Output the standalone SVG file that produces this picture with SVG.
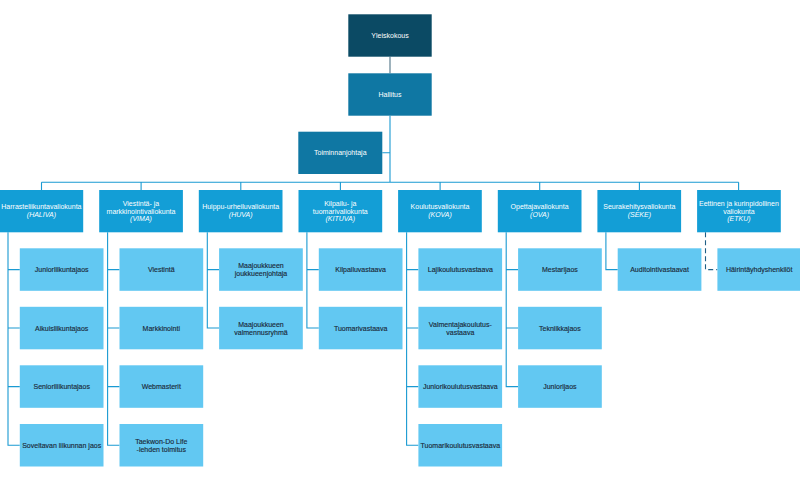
<svg xmlns="http://www.w3.org/2000/svg" width="800" height="481" viewBox="0 0 800 481">
<style>
text{font-family:"Liberation Sans",Arial,sans-serif;font-size:7px;text-anchor:middle}
.top{fill:#0b4a64}
.mid{fill:#0f77a3}
.com{fill:#139ed6}
.ch{fill:#62c8f2}
.wt{fill:#ffffff}
.dk{fill:#1b2b3b;stroke:#1b2b3b;stroke-width:0.15}
.it{font-style:italic}
.ln{fill:none;stroke:#1a9ad2;stroke-width:1.1}
.ln2{fill:none;stroke:#4f7486;stroke-width:1.1}
.dash{fill:none;stroke:#1f5f86;stroke-width:1.1;stroke-dasharray:5,3}
</style>
<rect width="800" height="481" fill="#ffffff"/>
<g id="connectors">
<path class="ln2" d="M390 56.7V73.3"/>
<path class="ln" d="M390 115.7V182.3M382.3 152.8H390M41.5 182.3H738.6M41.5 182.3V190M141.1 182.3V190M240.8 182.3V190M340.4 182.3V190M440.1 182.3V190M539.7 182.3V190M639.4 182.3V190M738.6 182.3V190"/>
<path class="ln" d="M8 232.3V445.2H19.8M8 269.6H19.8M8 328H19.8M8 386.6H19.8"/>
<path class="ln" d="M107.6 232.3V445.2H119.5M107.6 269.6H119.5M107.6 328H119.5M107.6 386.6H119.5"/>
<path class="ln" d="M207.3 232.3V328H219.1M207.3 269.6H219.1"/>
<path class="ln" d="M306.9 232.3V328H318.8M306.9 269.6H318.8"/>
<path class="ln" d="M406.6 232.3V445.2H418.4M406.6 269.6H418.4M406.6 328H418.4M406.6 386.6H418.4"/>
<path class="ln" d="M506.2 232.3V386.6H518.1M506.2 269.6H518.1M506.2 328H518.1"/>
<path class="ln" d="M605.9 232.3V269.6H617.7"/>
<path class="dash" d="M705.5 232.3V269.6H717.4"/>
</g>
<g id="yleiskokous"><rect class="top" x="348.3" y="14.3" width="83.4" height="42.4"/><text class="wt" x="390" y="38">Yleiskokous</text></g>
<g id="hallitus"><rect class="mid" x="348.3" y="73.3" width="83.4" height="42.4"/><text class="wt" x="390" y="97">Hallitus</text></g>
<g id="toiminnanjohtaja"><rect class="mid" x="298.3" y="131.7" width="84" height="42.3"/><text class="wt" x="340.3" y="155.3">Toiminnanjohtaja</text></g>

<g id="haliva"><rect class="com" x="-0.5" y="190" width="83.7" height="42.3"/><text class="wt" x="41.4" y="209.2">Harrasteliikuntavaliokunta</text><text class="wt it" x="41.4" y="216.9">(HALIVA)</text></g>
<g id="vima"><rect class="com" x="99.2" y="190" width="83.7" height="42.3"/><text class="wt" x="141" y="205.8">Viestintä- ja</text><text class="wt" x="141" y="213.5">markkinointivaliokunta</text><text class="wt it" x="141" y="221.2">(VIMA)</text></g>
<g id="huva"><rect class="com" x="198.8" y="190" width="83.7" height="42.3"/><text class="wt" x="240.7" y="209.2">Huippu-urheiluvaliokunta</text><text class="wt it" x="240.7" y="216.9">(HUVA)</text></g>
<g id="kituva"><rect class="com" x="298.5" y="190" width="83.7" height="42.3"/><text class="wt" x="340.3" y="205.8">Kilpailu- ja</text><text class="wt" x="340.3" y="213.5">tuomarivaliokunta</text><text class="wt it" x="340.3" y="221.2">(KITUVA)</text></g>
<g id="kova"><rect class="com" x="398.1" y="190" width="83.7" height="42.3"/><text class="wt" x="440" y="209.2">Koulutusvaliokunta</text><text class="wt it" x="440" y="216.9">(KOVA)</text></g>
<g id="ova"><rect class="com" x="497.8" y="190" width="83.7" height="42.3"/><text class="wt" x="539.6" y="209.2">Opettajavaliokunta</text><text class="wt it" x="539.6" y="216.9">(OVA)</text></g>
<g id="seke"><rect class="com" x="597.4" y="190" width="83.7" height="42.3"/><text class="wt" x="639.3" y="209.2">Seurakehitysvaliokunta</text><text class="wt it" x="639.3" y="216.9">(SEKE)</text></g>
<g id="etku"><rect class="com" x="697.1" y="190" width="83.7" height="42.3"/><text class="wt" x="738.9" y="205.8">Eettinen ja kurinpidollinen</text><text class="wt" x="738.9" y="213.5">valiokunta</text><text class="wt it" x="738.9" y="221.2">(ETKU)</text></g>

<g id="juniorliikuntajaos"><rect class="ch" x="19.8" y="248.3" width="83.7" height="42.5"/><text class="dk" x="61.7" y="272.1">Juniorliikuntajaos</text></g>
<g id="aikuisliikuntajaos"><rect class="ch" x="19.8" y="306.8" width="83.7" height="42.5"/><text class="dk" x="61.7" y="330.5">Aikuisliikuntajaos</text></g>
<g id="senioriliikuntajaos"><rect class="ch" x="19.8" y="365.3" width="83.7" height="42.5"/><text class="dk" x="61.7" y="389.1">Senioriliikuntajaos</text></g>
<g id="soveltavan"><rect class="ch" x="19.8" y="424" width="83.7" height="42.5"/><text class="dk" x="61.7" y="447.7">Soveltavan liikunnan jaos</text></g>

<g id="viestinta"><rect class="ch" x="119.5" y="248.3" width="83.7" height="42.5"/><text class="dk" x="161.3" y="272.1">Viestintä</text></g>
<g id="markkinointi"><rect class="ch" x="119.5" y="306.8" width="83.7" height="42.5"/><text class="dk" x="161.3" y="330.5">Markkinointi</text></g>
<g id="webmasterit"><rect class="ch" x="119.5" y="365.3" width="83.7" height="42.5"/><text class="dk" x="161.3" y="389.1">Webmasterit</text></g>
<g id="taekwondolife"><rect class="ch" x="119.5" y="424" width="83.7" height="42.5"/><text class="dk" x="161.3" y="443.7">Taekwon-Do Life</text><text class="dk" x="161.3" y="451.7">-lehden toimitus</text></g>

<g id="maajoukkueen-jj"><rect class="ch" x="219.1" y="248.3" width="83.7" height="42.5"/><text class="dk" x="261" y="268.1">Maajoukkueen</text><text class="dk" x="261" y="276.1">joukkueenjohtaja</text></g>
<g id="maajoukkueen-vr"><rect class="ch" x="219.1" y="306.8" width="83.7" height="42.5"/><text class="dk" x="261" y="326.5">Maajoukkueen</text><text class="dk" x="261" y="334.5">valmennusryhmä</text></g>

<g id="kilpailuvastaava"><rect class="ch" x="318.8" y="248.3" width="83.7" height="42.5"/><text class="dk" x="360.6" y="272.1">Kilpailuvastaava</text></g>
<g id="tuomarivastaava"><rect class="ch" x="318.8" y="306.8" width="83.7" height="42.5"/><text class="dk" x="360.6" y="330.5">Tuomarivastaava</text></g>

<g id="lajikoulutusvastaava"><rect class="ch" x="418.4" y="248.3" width="83.7" height="42.5"/><text class="dk" x="460.3" y="272.1">Lajikoulutusvastaava</text></g>
<g id="valmentajakoulutusvastaava"><rect class="ch" x="418.4" y="306.8" width="83.7" height="42.5"/><text class="dk" x="460.3" y="326.5">Valmentajakoulutus-</text><text class="dk" x="460.3" y="334.5">vastaava</text></g>
<g id="juniorikoulutusvastaava"><rect class="ch" x="418.4" y="365.3" width="83.7" height="42.5"/><text class="dk" x="460.3" y="389.1">Juniorikoulutusvastaava</text></g>
<g id="tuomarikoulutusvastaava"><rect class="ch" x="418.4" y="424" width="83.7" height="42.5"/><text class="dk" x="460.3" y="447.7">Tuomarikoulutusvastaava</text></g>

<g id="mestarijaos"><rect class="ch" x="518.1" y="248.3" width="83.7" height="42.5"/><text class="dk" x="559.9" y="272.1">Mestarijaos</text></g>
<g id="tekniikkajaos"><rect class="ch" x="518.1" y="306.8" width="83.7" height="42.5"/><text class="dk" x="559.9" y="330.5">Tekniikkajaos</text></g>
<g id="juniorijaos"><rect class="ch" x="518.1" y="365.3" width="83.7" height="42.5"/><text class="dk" x="559.9" y="389.1">Juniorijaos</text></g>

<g id="auditointivastaavat"><rect class="ch" x="617.7" y="248.3" width="83.7" height="42.5"/><text class="dk" x="659.6" y="272.1">Auditointivastaavat</text></g>

<g id="hairintayhdyshenkilot"><rect class="ch" x="717.4" y="248.3" width="83.7" height="42.5"/><text class="dk" x="759.2" y="272.1">Häirintäyhdyshenkilöt</text></g>
</svg>
